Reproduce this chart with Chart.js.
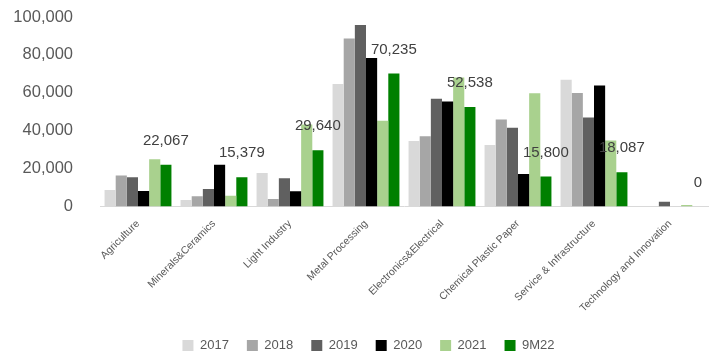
<!DOCTYPE html>
<html>
<head>
<meta charset="utf-8">
<script src="https://cdn.jsdelivr.net/npm/chart.js@4/dist/chart.umd.min.js"></script>
<style>
  html, body { margin: 0; padding: 0; background: #ffffff; }
  #wrap { width: 713px; height: 356px; }
</style>
</head>
<body>
<div id="wrap"><canvas id="chart" width="713" height="356"></canvas></div>
<script>
// Sectors along the x axis
const sectors = [
  'Agriculture', 'Minerals&Ceramics', 'Light Industry', 'Metal Processing',
  'Electronics&Electrical', 'Chemical Plastic Paper', 'Service & Infrastructure',
  'Technology and Innovation'
];

// Yearly values per sector
const y2017 = [8700, 3400, 17700, 64600, 34500, 32500, 66900, 0];
const y2018 = [16300, 5400, 4000, 88600, 37100, 45900, 59900, 0];
const y2019 = [15400, 9300, 14900, 95800, 56900, 41500, 47000, 2500];
const y2020 = [8200, 22000, 8000, 78400, 55400, 17200, 63900, 0];
const y2021 = [25000, 5700, 43300, 45200, 68100, 59700, 34800, 800];
const y9M22 = [22067, 15379, 29640, 70235, 52538, 15800, 18087, 0];

const seriesNames = ['2017', '2018', '2019', '2020', '2021', '9M22'];
const seriesColors = ['#d9d9d9', '#a6a6a6', '#606060', '#000000', '#a9d18e', '#008000'];
const seriesValues = [y2017, y2018, y2019, y2020, y2021, y9M22];

const FONT = '"Liberation Sans", Arial, sans-serif';

// Value labels printed above the 9M22 bars
const labelledSeries = 5;
const valueLabels = {
  id: 'valueLabels',
  afterDatasetsDraw(chart) {
    const ctx = chart.ctx;
    const meta = chart.getDatasetMeta(labelledSeries);
    const values = chart.data.datasets[labelledSeries].data;
    ctx.save();
    ctx.font = '15px ' + FONT;
    ctx.fillStyle = '#404040';
    ctx.textAlign = 'center';
    ctx.textBaseline = 'middle';
    meta.data.forEach((bar, i) => {
      ctx.fillText(values[i].toLocaleString('en-US'), bar.x, bar.y - 24);
    });
    ctx.restore();
  }
};

// Nudge the legend row slightly right of the canvas centre
const legendShift = {
  id: 'legendShift',
  afterLayout(chart) {
    if (chart.legend) {
      chart.legend.left += 8;
      chart.legend.right += 8;
    }
  }
};

const datasets = seriesNames.map((name, i) => ({
  label: name,
  data: seriesValues[i],
  backgroundColor: seriesColors[i],
  borderWidth: 0,
  barPercentage: 1.0,
  categoryPercentage: 0.88
}));

new Chart(document.getElementById('chart'), {
  type: 'bar',
  data: { labels: sectors, datasets },
  plugins: [valueLabels, legendShift],
  options: {
    responsive: false,
    animation: false,
    devicePixelRatio: 1,
    layout: { padding: { left: 13, right: 5, top: 0, bottom: -6 } },
    plugins: {
      tooltip: { enabled: false },
      legend: {
        position: 'bottom',
        labels: {
          boxWidth: 11,
          boxHeight: 11,
          padding: 18,
          color: '#595959',
          font: { family: FONT, size: 13 }
        }
      }
    },
    scales: {
      x: {
        grid: { display: false, drawTicks: false },
        border: { display: true, color: '#d9d9d9', width: 1 },
        ticks: {
          color: '#595959',
          minRotation: 45,
          maxRotation: 45,
          padding: 11,
          font: { family: FONT, size: 10.5 }
        },
        afterFit(axis) { axis.height = 114.5; }
      },
      y: {
        min: 0,
        max: 100000,
        grid: { display: false, drawTicks: false },
        border: { display: false },
        ticks: {
          stepSize: 20000,
          color: '#595959',
          padding: 27,
          font: { family: FONT, size: 16.5 },
          callback: v => v.toLocaleString('en-US')
        },
        // wide gap between tick labels and plot, without extra top/bottom room
        afterFit(axis) {
          axis.width = 87;
          axis.paddingTop = 17;
          axis.paddingBottom = 0;
        }
      }
    }
  }
});
</script>
</body>
</html>
